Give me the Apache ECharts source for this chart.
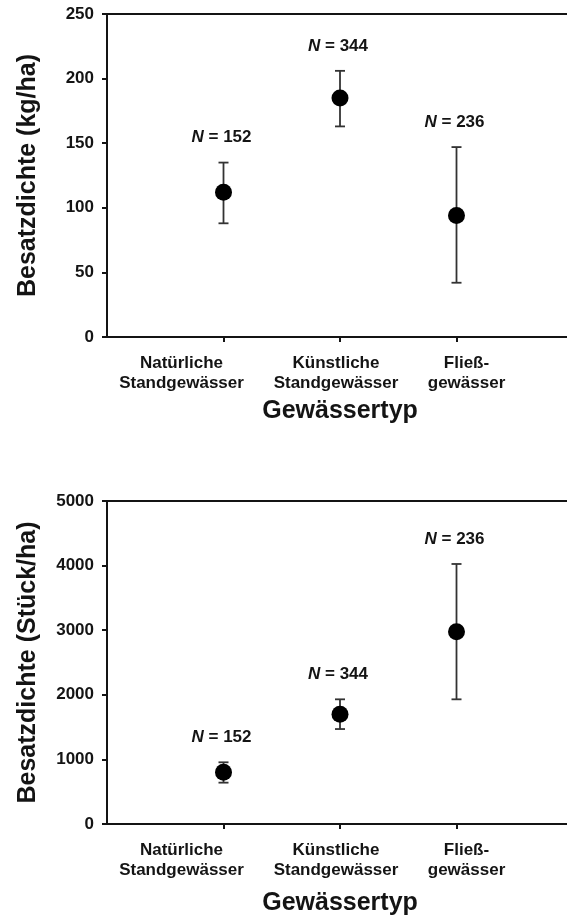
<!DOCTYPE html>
<html><head><meta charset="utf-8">
<script src="https://cdn.jsdelivr.net/npm/echarts@6/dist/echarts.min.js"></script>
<style>html,body{margin:0;padding:0;background:#fff}#c{width:567px;height:917px}</style>
</head><body><div id="c"></div>
<script>
const categories = ['Natürliche\nStandgewässer', 'Künstliche\nStandgewässer', 'Fließ-\ngewässer'];
const xPositions = [1, 2, 3];
const nLabels = [152, 344, 236];
const massMean = [112, 185, 94];
const massLow = [88, 163, 42];
const massHigh = [135, 206, 147];
const countMean = [800, 1700, 2975];
const countLow = [640, 1470, 1930];
const countHigh = [955, 1930, 4025];
const massTicks = [0, 50, 100, 150, 200, 250];
const countTicks = [0, 1000, 2000, 3000, 4000, 5000];

const FONT = '"Liberation Sans", Arial, sans-serif';
const INK = '#141414';
const LBL = 17;
const axisSlots = ['', ...categories, ''];

function errData(lo, hi) {
  return xPositions.map((x, i) => [x, lo[i], hi[i], nLabels[i]]);
}
function ptData(m) { return xPositions.map((x, i) => [x, m[i]]); }

function renderErr(params, api) {
  const x = api.value(0);
  const lo = api.coord([x, api.value(1)]);
  const hi = api.coord([x, api.value(2)]);
  const n = api.value(3);
  const w = 5;
  const st = { stroke: '#333', lineWidth: 1.8 };
  return {
    type: 'group',
    children: [
      { type: 'line', shape: { x1: lo[0], y1: lo[1], x2: hi[0], y2: hi[1] }, style: st },
      { type: 'line', shape: { x1: lo[0] - w, y1: lo[1], x2: lo[0] + w, y2: lo[1] }, style: st },
      { type: 'line', shape: { x1: hi[0] - w, y1: hi[1], x2: hi[0] + w, y2: hi[1] }, style: st },
      { type: 'text', x: hi[0] - 2, y: hi[1] - 25,
        style: { text: '{i|N} = ' + n, align: 'center', verticalAlign: 'middle',
          fontFamily: FONT, fontSize: LBL, fontWeight: 'bold', fill: INK,
          rich: { i: { fontStyle: 'italic', fontWeight: 'bold', fontFamily: FONT, fontSize: LBL, fill: INK } } } }
    ]
  };
}

const catStyle = { fontFamily: FONT, fontSize: LBL, fontWeight: 'bold', color: INK, lineHeight: 20.5, align: 'center' };
const richCat = {
  c0: Object.assign({}, catStyle, { padding: [0, 84, 0, 0] }),
  c1: Object.assign({}, catStyle, { padding: [0, 8, 0, 0] }),
  c2: Object.assign({}, catStyle, { padding: [0, 0, 0, 20] })
};

function xAxes(gi, nameGap) {
  return [{
    gridIndex: gi, type: 'category', data: axisSlots, boundaryGap: false, position: 'bottom',
    name: 'Gewässertyp', nameLocation: 'middle', nameGap: nameGap,
    nameTextStyle: { fontFamily: FONT, fontSize: 25, fontWeight: 'bold', color: INK },
    axisLine: { lineStyle: { color: INK, width: 2 } },
    axisTick: { length: 5, interval: (i) => i >= 1 && i <= categories.length, lineStyle: { color: INK, width: 2 } },
    axisLabel: { interval: 0, hideOverlap: false,
      formatter: (v, idx) => {
        if (!v) return '';
        const k = idx - 1;
        return v.split('\n').map(s => '{c' + k + '|' + s + '}').join('\n');
      },
      rich: richCat,
      fontFamily: FONT, fontSize: LBL, fontWeight: 'bold', color: INK, margin: 16, lineHeight: 20.5 },
    splitLine: { show: false }
  }, {
    gridIndex: gi, type: 'category', data: axisSlots, boundaryGap: false, position: 'top',
    axisLine: { lineStyle: { color: INK, width: 2 } },
    axisTick: { show: false }, axisLabel: { show: false }, splitLine: { show: false }
  }];
}

function yAxis(gi, name, ticks) {
  return {
    gridIndex: gi, type: 'value', min: ticks[0], max: ticks[ticks.length - 1], interval: ticks[1] - ticks[0],
    name: name, nameLocation: 'middle', nameGap: 66,
    nameTextStyle: { fontFamily: FONT, fontSize: 25, fontWeight: 'bold', color: INK },
    axisLine: { show: true, lineStyle: { color: INK, width: 2 } },
    axisTick: { show: true, length: 5, lineStyle: { color: INK, width: 2 } },
    axisLabel: { fontFamily: FONT, fontSize: LBL, fontWeight: 'bold', color: INK, margin: 13, formatter: v => String(v) },
    splitLine: { show: false }
  };
}

const chart = echarts.init(document.getElementById('c'));
chart.setOption({
  backgroundColor: '#fff',
  animation: false,
  grid: [
    { left: 107, top: 14, height: 323, width: 466, containLabel: false, outerBoundsMode: 'none' },
    { left: 107, top: 501, height: 323, width: 466, containLabel: false, outerBoundsMode: 'none' }
  ],
  xAxis: [...xAxes(0, 62), ...xAxes(1, 67)],
  yAxis: [yAxis(0, 'Besatzdichte (kg/ha)', massTicks), yAxis(1, 'Besatzdichte (Stück/ha)', countTicks)],
  series: [
    { type: 'custom', xAxisIndex: 0, yAxisIndex: 0, renderItem: renderErr, data: errData(massLow, massHigh), z: 2 },
    { type: 'scatter', xAxisIndex: 0, yAxisIndex: 0, data: ptData(massMean), symbolSize: 17,
      itemStyle: { color: '#000', opacity: 1 }, z: 3 },
    { type: 'custom', xAxisIndex: 2, yAxisIndex: 1, renderItem: renderErr, data: errData(countLow, countHigh), z: 2 },
    { type: 'scatter', xAxisIndex: 2, yAxisIndex: 1, data: ptData(countMean), symbolSize: 17,
      itemStyle: { color: '#000', opacity: 1 }, z: 3 }
  ]
});
</script></body></html>
